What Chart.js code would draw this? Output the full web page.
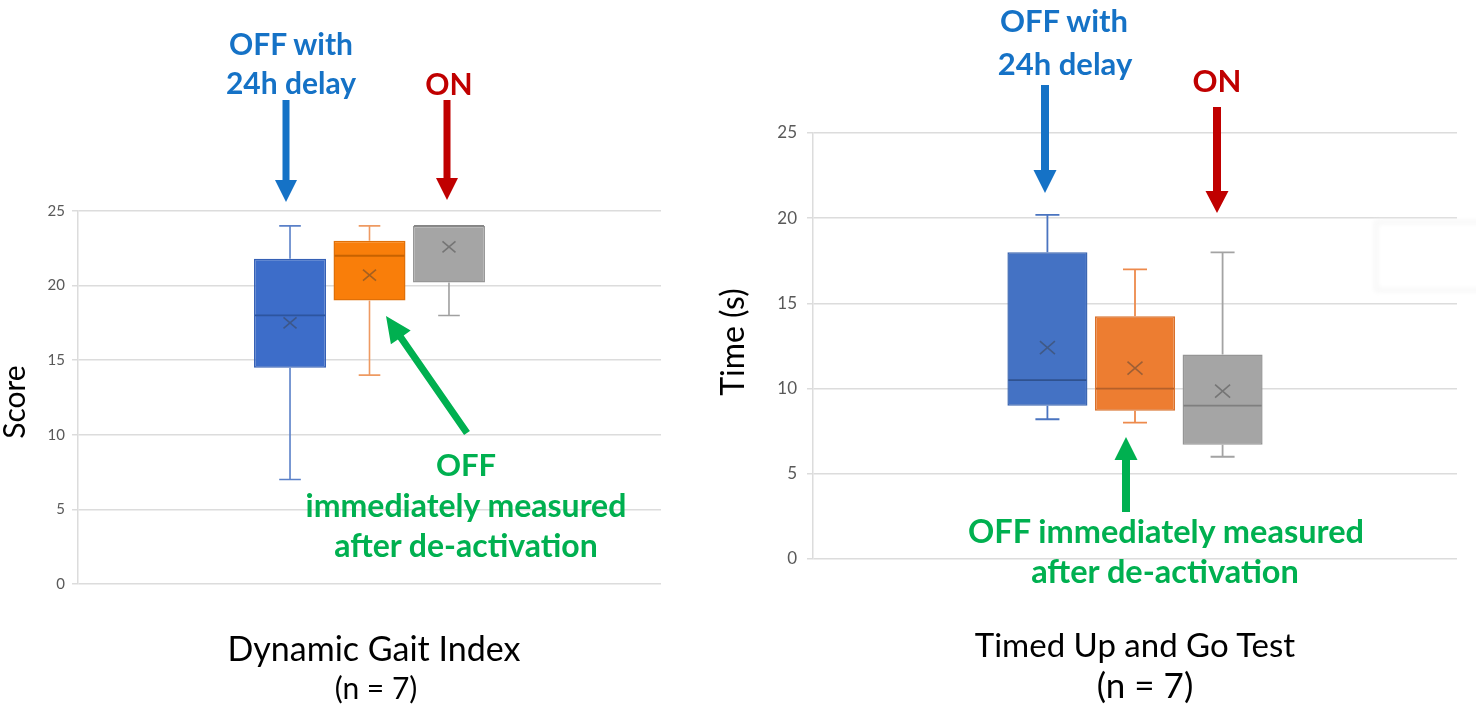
<!DOCTYPE html>
<html><head><meta charset="utf-8">
<script src="https://cdn.jsdelivr.net/npm/chart.js@4.4.0/dist/chart.umd.min.js"></script>
<style>
html,body{margin:0;padding:0;background:#fff;width:1476px;height:710px;overflow:hidden;}
#left{position:absolute;left:0;top:0;width:700px;height:710px;}
#right{position:absolute;left:700px;top:0;width:776px;height:710px;}
#ann{position:absolute;left:0;top:0;pointer-events:none;}
#ann text{font-family:Lato,"Open Sans",sans-serif;}
</style></head><body>
<div id="left"><canvas id="c1"></canvas></div>
<div id="right"><canvas id="c2"></canvas></div>
<svg id="ann" width="1476" height="710" xmlns="http://www.w3.org/2000/svg">
  <defs><filter id="soft"><feGaussianBlur stdDeviation="2.5"/></filter></defs>
  <rect x="1376" y="222" width="110" height="68" fill="none" stroke="#F4F4F4" stroke-width="3" filter="url(#soft)"/>
  <g id="arrows"></g>
  <g font-weight="bold" text-anchor="middle">
    <text x="291" y="55" font-size="30" fill="#1572C6">OFF with</text>
    <text x="291" y="94" font-size="30" fill="#1572C6">24h delay</text>
    <text x="449" y="95" font-size="30" fill="#C00000">ON</text>
    <text x="466" y="476" font-size="31" fill="#00B050">OFF</text>
    <text x="466" y="517" font-size="32" fill="#00B050">immediately measured</text>
    <text x="466" y="557" font-size="32" fill="#00B050">after de-activation</text>
    <text x="1064" y="32" font-size="31" fill="#1572C6">OFF with</text>
    <text x="1065" y="75" font-size="31" fill="#1572C6">24h delay</text>
    <text x="1217" y="92" font-size="31" fill="#C00000">ON</text>
    <text x="1166" y="543" font-size="32.5" fill="#00B050">OFF immediately measured</text>
    <text x="1165" y="583" font-size="32.5" fill="#00B050">after de-activation</text>
  </g>
  <g text-anchor="middle" fill="#000">
    <text x="374" y="661" font-size="34">Dynamic Gait Index</text>
    <text x="376" y="699" font-size="30">(n = 7)</text>
    <text x="1135" y="657" font-size="33">Timed Up and Go Test</text>
    <text x="1145" y="698" font-size="35">(n = 7)</text>
    <text transform="translate(25,402) rotate(-90)" font-size="30">Score</text>
    <text transform="translate(744,342) rotate(-90)" font-size="32">Time (s)</text>
  </g>
</svg>
<script>
// ---------- data ----------
const seriesNames = ['OFF with 24h delay', 'OFF immediately measured after de-activation', 'ON'];

const dgiCategory = ['Dynamic Gait Index'];
const dgiMin    = [7, 14, 18];
const dgiQ1     = [14.5, 19, 20.2];
const dgiMedian = [18, 22, 24];
const dgiQ3     = [21.8, 23, 24];
const dgiMax    = [24, 24, 24];
const dgiMean   = [17.5, 20.7, 22.6];

const tugCategory = ['Timed Up and Go Test'];
const tugMin    = [8.2, 8, 6];
const tugQ1     = [9, 8.7, 6.7];
const tugMedian = [10.5, 10, 9];
const tugQ3     = [18, 14.25, 12];
const tugMax    = [20.2, 17, 18];
const tugMean   = [12.4, 11.2, 9.85];

const yMin = 0, yMax = 25, yStep = 5;

// ---------- styles ----------
const leftFill   = ['#3D6DC9', '#F97E0A', '#A5A5A5'];
const leftBorder = ['#3560B5', '#E07008', '#979797'];
const leftWhisk  = ['#5A80C8', '#EE9A62', '#A0A0A0'];
const leftMed    = ['#2D559F', '#C76200', '#858585'];
const rightFill   = ['#4472C4', '#ED7D31', '#A5A5A5'];
const rightBorder = ['#3C66B1', '#D9702A', '#959595'];
const rightWhisk  = ['#4A74C0', '#ED8A4C', '#A3A3A3'];
const rightMed    = ['#2F528F', '#B5602A', '#7F7F7F'];

// ---------- plugin drawing whiskers, medians, means via scales ----------
const boxDetails = {
  id: 'boxDetails',
  afterDatasetsDraw(chart, args, opts) {
    const ctx = chart.ctx, ys = chart.scales.y;
    chart.data.datasets.forEach((ds, i) => {
      const bar = chart.getDatasetMeta(i).data[0];
      if (!bar) return;
      const x = bar.x, w = bar.width, s = ds.stats;
      const py = v => ys.getPixelForValue(v);
      const cap = w * 0.3;
      ctx.save();
      ctx.lineCap = 'butt';
      ctx.strokeStyle = ds.whiskerColor; ctx.lineWidth = opts.whiskerWidth;
      ctx.beginPath();
      if (s.max > s.q3) {
        ctx.moveTo(x, py(s.q3)); ctx.lineTo(x, py(s.max));
        ctx.moveTo(x - cap/2, py(s.max)); ctx.lineTo(x + cap/2, py(s.max));
      }
      if (s.min < s.q1) {
        ctx.moveTo(x, py(s.q1)); ctx.lineTo(x, py(s.min));
        ctx.moveTo(x - cap/2, py(s.min)); ctx.lineTo(x + cap/2, py(s.min));
      }
      ctx.stroke();
      // median
      ctx.strokeStyle = ds.medianColor; ctx.lineWidth = 1.8;
      ctx.beginPath();
      ctx.moveTo(x - w/2 + 1, py(s.median)); ctx.lineTo(x + w/2 - 1, py(s.median));
      ctx.stroke();
      // mean marker (x)
      const m = py(s.mean), hx = opts.meanHalfW, hy = opts.meanHalfH;
      ctx.strokeStyle = 'rgba(60,60,60,0.45)'; ctx.lineWidth = 1.6;
      ctx.beginPath();
      ctx.moveTo(x - hx, m - hy); ctx.lineTo(x + hx, m + hy);
      ctx.moveTo(x + hx, m - hy); ctx.lineTo(x - hx, m + hy);
      ctx.stroke();
      ctx.restore();
    });
  }
};

function buildDatasets(mins, q1s, meds, q3s, maxs, means, fill, border, whisk, med) {
  return seriesNames.map((name, i) => ({
    label: name,
    data: [[q1s[i], q3s[i]]],
    backgroundColor: fill[i],
    borderColor: border[i],
    borderWidth: 1.5,
    borderSkipped: false,
    stats: { min: mins[i], q1: q1s[i], median: meds[i], q3: q3s[i], max: maxs[i], mean: means[i] },
    whiskerColor: whisk[i],
    medianColor: med[i]
  }));
}

function makeChart(id, labels, datasets, cfg) {
  return new Chart(document.getElementById(id), {
    type: 'bar',
    data: { labels: labels, datasets: datasets },
    plugins: [boxDetails],
    options: {
      responsive: true,
      maintainAspectRatio: false,
      animation: false,
      events: [],
      categoryPercentage: cfg.catPct,
      barPercentage: cfg.barPct,
      layout: { padding: cfg.padding },
      plugins: {
        legend: { display: false },
        tooltip: { enabled: false },
        boxDetails: { whiskerWidth: cfg.whiskerWidth, meanHalfW: cfg.meanHalfW, meanHalfH: cfg.meanHalfH }
      },
      scales: {
        x: { display: false },
        y: {
          min: yMin, max: yMax,
          afterFit: s => { s.width = cfg.axisWidth; },
          ticks: { stepSize: yStep, padding: cfg.tickPad, color: '#595959',
                   font: { family: 'Lato, "Open Sans", sans-serif', size: cfg.tickSize } },
          grid: { color: '#DCDCDC', lineWidth: 1.5, drawTicks: true, tickLength: 6, tickColor: '#DCDCDC' },
          border: { display: true, color: '#DCDCDC', width: 1.5 },
          title: { display: false }
        }
      }
    }
  });
}

makeChart('c1', dgiCategory,
  buildDatasets(dgiMin, dgiQ1, dgiMedian, dgiQ3, dgiMax, dgiMean, leftFill, leftBorder, leftWhisk, leftMed),
  { catPct: 0.409, barPct: 0.906, padding: { left: 0, right: 39, top: 211, bottom: 126 },
    axisWidth: 78, tickPad: 7, tickSize: 15,
    whiskerWidth: 1.6, meanHalfW: 6.5, meanHalfH: 5.5 });

makeChart('c2', tugCategory,
  buildDatasets(tugMin, tugQ1, tugMedian, tugQ3, tugMax, tugMean, rightFill, rightBorder, rightWhisk, rightMed),
  { catPct: 0.408, barPct: 0.914, padding: { left: 0, right: 19, top: 133, bottom: 151 },
    axisWidth: 113, tickPad: 10, tickSize: 17,
    whiskerWidth: 1.8, meanHalfW: 7.5, meanHalfH: 6.5 });

// ---------- annotation arrows ----------
function arrow(x1, y1, x2, y2, shaftW, headW, headL, color) {
  const dx = x2 - x1, dy = y2 - y1, L = Math.hypot(dx, dy);
  const ux = dx / L, uy = dy / L, nx = -uy, ny = ux;
  const bx = x2 - ux * headL, by = y2 - uy * headL;
  const pts = [
    [x1 + nx*shaftW/2, y1 + ny*shaftW/2],
    [bx + nx*shaftW/2, by + ny*shaftW/2],
    [bx + nx*headW/2, by + ny*headW/2],
    [x2, y2],
    [bx - nx*headW/2, by - ny*headW/2],
    [bx - nx*shaftW/2, by - ny*shaftW/2],
    [x1 - nx*shaftW/2, y1 - ny*shaftW/2]
  ];
  const p = document.createElementNS('http://www.w3.org/2000/svg', 'polygon');
  p.setAttribute('points', pts.map(q => q[0].toFixed(1) + ',' + q[1].toFixed(1)).join(' '));
  p.setAttribute('fill', color);
  document.getElementById('arrows').appendChild(p);
}
arrow(286, 100, 286, 202, 7, 22, 22, '#1572C6');
arrow(447, 100, 447, 200, 7, 22, 22, '#C00000');
arrow(467, 433, 386, 316, 7, 24, 26, '#00B050');
arrow(1045, 85, 1045, 193, 8, 23, 23, '#1572C6');
arrow(1217, 107, 1217, 213, 8, 23, 22, '#C00000');
arrow(1126, 512, 1126, 437, 8, 23, 23, '#00B050');
</script>
</body></html>
